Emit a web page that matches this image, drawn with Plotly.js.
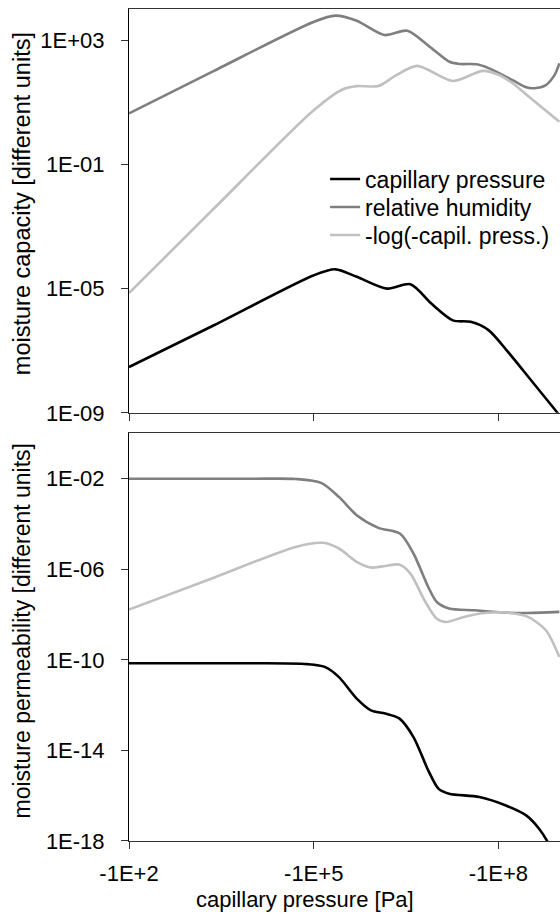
<!DOCTYPE html>
<html>
<head>
<meta charset="utf-8">
<script src="https://cdn.plot.ly/plotly-3.0.1.min.js"></script>
<style>
html,body{margin:0;padding:0;overflow:hidden;background:#fff;}
#chart{width:560px;height:917px;}
</style>
</head>
<body>
<div id="chart"></div>
<script>
// ---- Data (x = -capillary pressure [Pa], plotted on log axis with negative labels) ----
// Top panel: moisture capacity
var capX_pc  = [1e2, 2.4e3, 1.01e5, 2.25e5, 5.0e5, 1.55e6, 3.72e6, 8.13e6, 1.82e7, 3.55e7, 6.9e7, 1.35e8, 3.55e8, 9.33e8, 1.12e9];
var capY_pc  = [3.0e-8, 6.6e-7, 2.7e-5, 4.17e-5, 2.4e-5, 1.0e-5, 1.38e-5, 3.3e-6, 9.5e-7, 8.5e-7, 4.6e-7, 1.05e-7, 1.0e-8, 9.5e-10, 6.3e-10];

var capX_rh  = [1e2, 2.4e3, 1.01e5, 2.25e5, 5.0e5, 1.41e6, 3.31e6, 7.59e6, 1.6e7, 2.34e7, 4.37e7, 7.08e7, 1.7e8, 2.82e8, 3.8e8, 5.89e8, 8.13e8, 9.77e8];
var capY_rh  = [4.38, 1.02e2, 3.9e3, 6.1e3, 4.17e3, 1.45e3, 2.0e3, 6.17e2, 2.0e2, 1.7e2, 1.66e2, 1.23e2, 5.13e1, 3.02e1, 2.82e1, 3.55e1, 7.4e1, 1.78e2];

var capX_lg  = [1e2, 2.4e3, 1.01e5, 2.93e5, 5.0e5, 1.12e6, 2.19e6, 4.79e6, 1.82e7, 5.56e7, 1.05e8, 1.7e8, 3.63e8, 9.77e8];
var capY_lg  = [7.2e-6, 3.8e-3, 5.6, 2.57e1, 3.3e1, 3.3e1, 7.4e1, 1.48e2, 4.8e1, 1.02e2, 7.4e1, 4.07e1, 1.17e1, 2.34];

// Bottom panel: moisture permeability
var permX_pc = [1e2, 1e4, 7.76e4, 1.51e5, 2.57e5, 5.0e5, 8.5e5, 1.45e6, 2.45e6, 4.17e6, 7.24e6, 1.07e7, 1.58e7, 4.9e7, 1.32e8, 2.82e8, 4.57e8, 6.3e8, 7.9e8];
var permY_pc = [7.1e-11, 7.1e-11, 6.5e-11, 4.9e-11, 1.74e-11, 1.95e-12, 5.9e-13, 4.3e-13, 2.6e-13, 3.9e-14, 1.32e-15, 2.0e-16, 1.23e-16, 8.7e-17, 3.7e-17, 1.35e-17, 3.5e-18, 9.1e-19, 2.5e-19];

var permX_rh = [1e2, 1e4, 5.1e4, 1.32e5, 2.57e5, 5.0e5, 1.12e6, 2.51e6, 4.17e6, 7.24e6, 1.0e7, 1.58e7, 4.07e7, 1.02e8, 3.02e8, 9.77e8];
var permY_rh = [1.0e-2, 1.0e-2, 9.8e-3, 6.6e-3, 1.58e-3, 2.45e-4, 6.8e-5, 3.8e-5, 5.0e-6, 1.66e-7, 3.6e-8, 1.86e-8, 1.55e-8, 1.26e-8, 1.17e-8, 1.32e-8];

var permX_lg = [1e2, 2.5e3, 5.1e4, 1.41e5, 2.57e5, 5.0e5, 8.5e5, 1.45e6, 2.45e6, 3.72e6, 6.3e6, 1.0e7, 1.41e7, 2.75e7, 6.0e7, 1.35e8, 3.02e8, 5.89e8, 9.77e8];
var permY_lg = [1.66e-8, 4.5e-7, 9.8e-6, 1.48e-5, 8.3e-6, 2.14e-6, 1.2e-6, 1.41e-6, 1.62e-6, 6.5e-7, 4.3e-8, 6.6e-9, 4.7e-9, 7.9e-9, 1.17e-8, 1.23e-8, 7.9e-9, 2.04e-9, 1.35e-10];

var seriesNames = ['capillary pressure', 'relative humidity', '-log(-capil. press.)'];
var seriesColors = ['#000000', '#7f7f7f', '#c0c0c0'];

var xTickVals = [1e2, 1e5, 1e8];
var xTickText = ['-1E+2', '-1E+5', '-1E+8'];
var capTickVals = [1e3, 1e-1, 1e-5, 1e-9];
var capTickText = ['1E+03', '1E-01', '1E-05', '1E-09'];
var permTickVals = [1e-2, 1e-6, 1e-10, 1e-14, 1e-18];
var permTickText = ['1E-02', '1E-06', '1E-10', '1E-14', '1E-18'];

var xTitle = 'capillary pressure [Pa]';
var capTitle = 'moisture capacity [different units]';
var permTitle = 'moisture permeability [different units]';

// ---- Traces ----
var legendIds = ['legend', 'legend2', 'legend3'];
function tr(x, y, i, xa, ya, showleg) {
  return {
    x: x, y: y, xaxis: xa, yaxis: ya, type: 'scatter', mode: 'lines',
    name: seriesNames[i], showlegend: showleg, legend: legendIds[i],
    line: {color: seriesColors[i], width: 2.6, shape: 'spline', smoothing: 0.8},
    hoverinfo: 'x+y'
  };
}
var data = [
  tr(capX_pc, capY_pc, 0, 'x', 'y', true),
  tr(capX_rh, capY_rh, 1, 'x', 'y', true),
  tr(capX_lg, capY_lg, 2, 'x', 'y', true),
  tr(permX_pc, permY_pc, 0, 'x2', 'y2', false),
  tr(permX_rh, permY_rh, 1, 'x2', 'y2', false),
  tr(permX_lg, permY_lg, 2, 'x2', 'y2', false)
];

var FONT = 'Liberation Sans, Arial, sans-serif';
var tickFont = {family: FONT, size: 22, color: '#000'};

function xax(anchor, labels) {
  return {
    type: 'log', range: [2, 9], anchor: anchor,
    tickmode: 'array', tickvals: xTickVals, ticktext: xTickText,
    showticklabels: labels, ticks: 'outside', ticklen: 7, tickwidth: 1, tickcolor: '#333',
    showline: true, linecolor: '#333', linewidth: 1.3, mirror: true,
    showgrid: false, zeroline: false, tickfont: tickFont, ticklabelstandoff: 5
  };
}
function yax(anchor, domain, range, vals, text) {
  return {
    type: 'log', range: range, anchor: anchor, domain: domain,
    tickmode: 'array', tickvals: vals, ticktext: text,
    ticks: 'outside', ticklen: 7, tickwidth: 1, tickcolor: '#333',
    showline: true, linecolor: '#000', linewidth: 1, mirror: false,
    showgrid: false, zeroline: false, tickfont: tickFont, ticklabelstandoff: 12
  };
}
function leg(yc) {
  return {
    x: 0.455, y: yc, xref: 'paper', yref: 'paper', xanchor: 'left', yanchor: 'middle',
    bgcolor: 'rgba(0,0,0,0)', borderwidth: 0,
    font: {family: FONT, size: 23, color: '#000'}
  };
}

var layout = {
  width: 560, height: 917,
  margin: {l: 129, r: 0, t: 9, b: 76},
  paper_bgcolor: '#fff', plot_bgcolor: '#fff',
  font: {family: FONT, size: 22, color: '#000'},
  showlegend: true,
  legend: leg(0.7956),
  legend2: leg(0.7620),
  legend3: leg(0.7283),
  xaxis: xax('y', false),
  xaxis2: xax('y2', true),
  yaxis: yax('x', [0.5146, 1], [-9, 4], capTickVals, capTickText),
  yaxis2: yax('x2', [0, 0.4898], [-18, 0], permTickVals, permTickText),
  annotations: [
    {text: xTitle, xref: 'paper', yref: 'paper', x: 0.408, y: -0.070, xanchor: 'center', yanchor: 'middle',
     showarrow: false, font: {family: FONT, size: 22, color: '#000'}},
    {text: capTitle, xref: 'paper', yref: 'paper', x: -0.248, y: 0.7656, xanchor: 'center', yanchor: 'middle',
     textangle: -90, showarrow: false, font: {family: FONT, size: 23.5, color: '#000'}},
    {text: permTitle, xref: 'paper', yref: 'paper', x: -0.248, y: 0.252, xanchor: 'center', yanchor: 'middle',
     textangle: -90, showarrow: false, font: {family: FONT, size: 23, color: '#000'}}
  ]
};

Plotly.newPlot('chart', data, layout, {displayModeBar: false, staticPlot: true});
</script>
</body>
</html>
